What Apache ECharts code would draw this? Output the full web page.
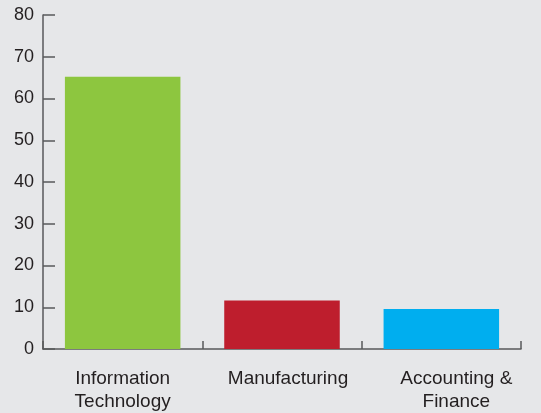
<!DOCTYPE html>
<html><head><meta charset="utf-8">
<script src="https://cdn.jsdelivr.net/npm/echarts@6/dist/echarts.min.js"></script>
<style>html,body{margin:0;padding:0;background:#e6e7e9;}#c{width:541px;height:413px;}</style>
</head><body><div id="c"></div>
<script>
const categories = ['Information\nTechnology', 'Manufacturing', 'Accounting &\nFinance'];
const values = [65.2, 11.6, 9.6];
const barColors = ['#8dc63f', '#be1e2d', '#00aeef'];
const yTicks = { min: 0, max: 80, interval: 10 };

const labelFont = { color: '#231f20', fontSize: 19, fontFamily: 'Liberation Sans, Arial, sans-serif', lineHeight: 23 };
const shifts = [0, 12, 30];
const rich = {};
shifts.forEach((s, i) => { rich['s' + i] = Object.assign({ padding: [0, 0, 0, s] }, labelFont); });

const chart = echarts.init(document.getElementById('c'), null, { renderer: 'canvas' });
chart.setOption({
  backgroundColor: '#e6e7e9',
  animation: false,
  grid: { left: 43, right: 20, top: 15, bottom: 62, containLabel: false },
  xAxis: {
    type: 'category',
    data: categories,
    axisLine: { lineStyle: { color: '#58595b', width: 1.5 } },
    axisTick: { show: true, inside: true, length: 8, interval: 0, alignWithLabel: false, lineStyle: { color: '#58595b', width: 1.5 } },
    axisLabel: Object.assign({
      margin: 18,
      interval: 0,
      hideOverlap: false,
      rich: rich,
      formatter: (val, idx) => val.split('\n').map(l => '{s' + idx + '|' + l + '}').join('\n')
    }, labelFont)
  },
  yAxis: {
    type: 'value',
    min: yTicks.min, max: yTicks.max, interval: yTicks.interval,
    splitLine: { show: false },
    axisLine: { show: true, lineStyle: { color: '#58595b', width: 1.5 } },
    axisTick: { show: true, inside: true, length: 12, lineStyle: { color: '#58595b', width: 1.5 } },
    axisLabel: { color: '#231f20', fontSize: 18, fontFamily: 'Liberation Sans, Arial, sans-serif', margin: 9 }
  },
  series: [{
    type: 'bar',
    data: values.map((v, i) => ({ value: v, itemStyle: { color: barColors[i] } })),
    barWidth: '72.5%'
  }]
});
</script></body></html>
